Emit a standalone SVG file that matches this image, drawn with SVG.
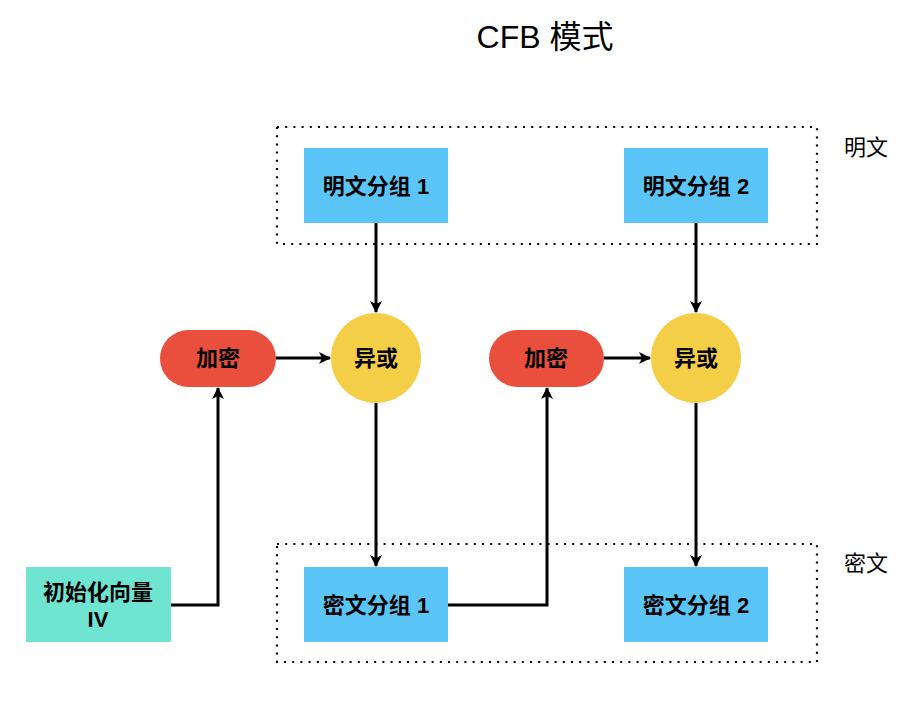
<svg xmlns="http://www.w3.org/2000/svg" width="912" height="707" viewBox="0 0 912 707">
<style>
.t{font-family:"Liberation Sans","Noto Sans CJK SC",sans-serif;fill:#000}
.b{font-weight:bold;font-size:22px}
.blue{fill:#5AC5F6}
.red{fill:#EA4F3E}
.yel{fill:#F5CE47}
.teal{fill:#6EE4D1}
.dot{fill:none;stroke:#000;stroke-width:2.2;stroke-dasharray:2 6.2}
.c{fill:none;stroke:#000;stroke-width:3}
</style>
<defs>
<marker id="ah" viewBox="0 0 12 12" refX="11" refY="6" markerWidth="12" markerHeight="12" orient="auto" markerUnits="userSpaceOnUse">
<path d="M0,0 L12,6 L0,12 L3,6 Z" fill="#000"/>
</marker>
</defs>
<rect width="912" height="707" fill="#fff"/>
<text class="t" x="545" y="48" font-size="32" text-anchor="middle">CFB 模式</text>
<g id="group-plain">
<rect class="dot" x="277" y="127" width="540" height="117"/>
<text class="t" x="866" y="155" font-size="22" text-anchor="middle">明文</text>
</g>
<g id="group-cipher">
<rect class="dot" x="277" y="544" width="540" height="118"/>
<text class="t" x="866" y="571" font-size="22" text-anchor="middle">密文</text>
</g>
<g id="connectors">
<path class="c" d="M376,223 V312" marker-end="url(#ah)"/>
<path class="c" d="M696,223 V312" marker-end="url(#ah)"/>
<path class="c" d="M276,358 H330" marker-end="url(#ah)"/>
<path class="c" d="M604,358 H650" marker-end="url(#ah)"/>
<path class="c" d="M376,403 V566" marker-end="url(#ah)"/>
<path class="c" d="M696,403 V566" marker-end="url(#ah)"/>
<path class="c" d="M171,605 H218 V388" marker-end="url(#ah)"/>
<path class="c" d="M448,605 H547 V388" marker-end="url(#ah)"/>
</g>
<g id="p1"><rect class="blue" x="304" y="148" width="144" height="75"/><text class="t b" x="376" y="194" text-anchor="middle">明文分组 1</text></g>
<g id="p2"><rect class="blue" x="624" y="148" width="144" height="75"/><text class="t b" x="696" y="194" text-anchor="middle">明文分组 2</text></g>
<g id="c1"><rect class="blue" x="304" y="567" width="144" height="75"/><text class="t b" x="376" y="613" text-anchor="middle">密文分组 1</text></g>
<g id="c2"><rect class="blue" x="624" y="567" width="144" height="75"/><text class="t b" x="696" y="613" text-anchor="middle">密文分组 2</text></g>
<g id="e1"><rect class="red" x="160" y="330" width="116" height="57" rx="28.5"/><text class="t b" x="218" y="366" text-anchor="middle">加密</text></g>
<g id="e2"><rect class="red" x="489" y="330" width="115" height="57" rx="28.5"/><text class="t b" x="546" y="366" text-anchor="middle">加密</text></g>
<g id="x1"><circle class="yel" cx="376" cy="358" r="45"/><text class="t b" x="376" y="366" text-anchor="middle">异或</text></g>
<g id="x2"><circle class="yel" cx="696" cy="358" r="45"/><text class="t b" x="696" y="366" text-anchor="middle">异或</text></g>
<g id="iv"><rect class="teal" x="26" y="567" width="145" height="75"/><text class="t b" x="98" y="600" text-anchor="middle">初始化向量</text><text class="t b" x="98" y="627" text-anchor="middle">IV</text></g>
</svg>
